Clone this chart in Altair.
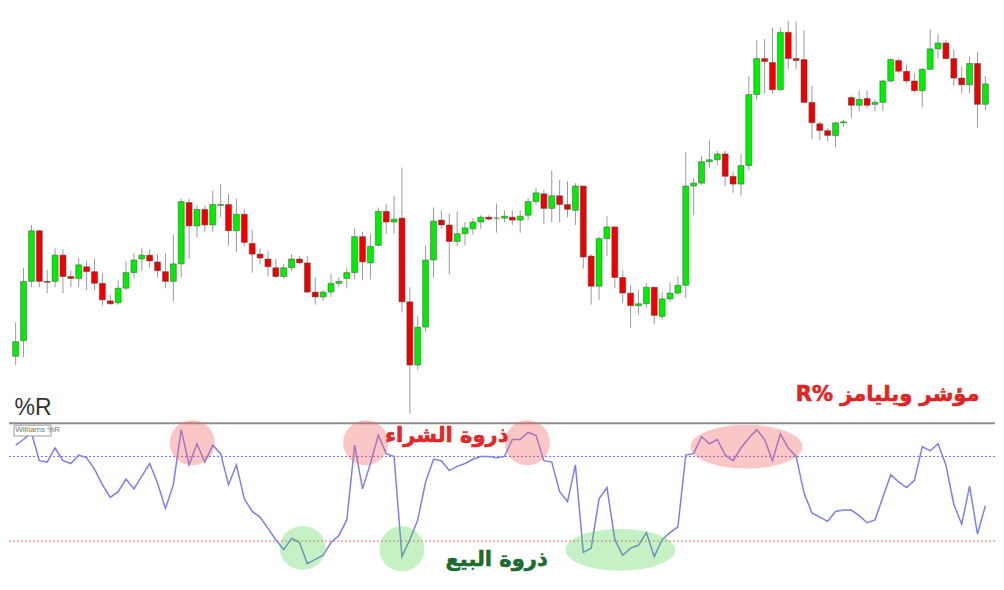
import math
import altair as alt
import pandas as pd

# ---------------- data ----------------
idx = list(range(1, 125))

open_ = [62, 78, 139, 191, 139, 139, 166, 144, 142, 154,
         149, 137, 119, 117, 132, 148, 162, 166, 159, 149,
         139, 157, 220, 196, 213, 197, 217, 218, 191, 208,
         178, 167, 162, 153, 144, 153, 162, 158, 128, 123,
         128, 137, 142, 148, 185, 158, 176, 211, 200, 204,
         118, 53, 92, 161, 202, 197, 180, 188, 193, 200,
         205, 204, 204, 205, 202, 207, 221, 229, 214, 227,
         218, 212, 237, 165, 134, 183, 195, 143, 127, 114,
         116, 133, 103, 121, 127, 135, 237, 240, 262, 264,
         270, 247, 239, 258, 331, 368, 364, 336, 395, 368,
         367, 323, 301, 294, 289, 302, 328, 320, 327, 321,
         323, 345, 366, 355, 345, 335, 357, 378, 384, 368,
         348, 341, 363, 321]

close = [77, 139, 191, 139, 138, 166, 144, 142, 156, 149,
         137, 120, 116, 132, 148, 161, 166, 160, 150, 139,
         157, 221, 196, 213, 197, 218, 218, 191, 208, 179,
         167, 163, 154, 144, 153, 162, 158, 128, 123, 128,
         137, 139, 148, 185, 159, 175, 211, 200, 203, 118,
         53, 92, 161, 201, 197, 180, 188, 194, 200, 205,
         203, 204, 206, 202, 206, 221, 230, 214, 227, 218,
         213, 237, 164, 134, 183, 195, 143, 127, 114, 116,
         133, 104, 121, 127, 135, 237, 240, 262, 264, 270,
         247, 239, 258, 331, 368, 365, 336, 395, 368, 366,
         323, 302, 294, 289, 302, 303, 320, 326, 320, 323,
         345, 367, 355, 345, 335, 357, 378, 384, 368, 348,
         341, 363, 321, 342]

high = [97, 153, 197, 192, 151, 173, 172, 150, 163, 160,
        162, 147, 125, 140, 160, 168, 173, 172, 167, 168,
        187, 224, 224, 217, 217, 232, 239, 229, 224, 213,
        192, 173, 170, 162, 157, 167, 165, 165, 143, 130,
        147, 143, 153, 194, 190, 188, 215, 219, 227, 256,
        133, 103, 176, 215, 212, 209, 211, 200, 204, 207,
        207, 219, 212, 212, 212, 225, 235, 233, 253, 243,
        242, 240, 237, 167, 185, 206, 195, 150, 135, 130,
        137, 133, 128, 138, 144, 272, 245, 268, 284, 273,
        273, 252, 270, 350, 387, 388, 400, 400, 407, 406,
        397, 340, 303, 297, 303, 305, 330, 335, 335, 326,
        346, 368, 368, 362, 353, 358, 398, 393, 387, 377,
        360, 370, 375, 350]

low = [53, 61, 133, 133, 127, 133, 127, 133, 133, 130,
       130, 114, 115, 115, 130, 142, 150, 153, 143, 132,
       118, 143, 162, 184, 190, 190, 205, 176, 169, 175,
       148, 157, 144, 142, 142, 150, 157, 127, 115, 119,
       123, 133, 132, 141, 140, 141, 175, 188, 188, 107,
       3, 48, 87, 143, 193, 146, 175, 176, 187, 193,
       202, 189, 200, 197, 189, 202, 218, 198, 200, 200,
       205, 197, 152, 115, 120, 165, 132, 117, 91, 105,
       112, 95, 100, 118, 125, 122, 207, 238, 255, 258,
       237, 230, 227, 253, 325, 332, 332, 335, 357, 357,
       322, 285, 284, 283, 277, 298, 307, 314, 317, 314,
       314, 343, 353, 343, 333, 318, 357, 368, 367, 340,
       332, 332, 297, 315]

williams_r = [-12, -8, -3, -23, -24, -14, -23, -25, -19, -21,
              -29, -40, -49, -45, -36, -43, -34, -25, -39, -57,
              -40, -1, -26, -11, -24, -12, -18, -40, -26, -50,
              -59, -63, -71, -79, -86, -78, -81, -96, -93, -90,
              -81, -76, -65, -12, -43, -25, -5, -18, -20, -91,
              -79, -65, -38, -22, -23, -30, -27, -25, -22, -20,
              -20, -21, -20, -8, -8, -3, -5, -23, -24, -45,
              -52, -26, -88, -85, -50, -42, -79, -90, -85, -83,
              -74, -91, -79, -74, -70, -19, -18, -6, -11, -8,
              -19, -23, -14, -7, -1, -8, -23, -4, -14, -20,
              -46, -60, -63, -66, -59, -58, -58, -62, -67, -65,
              -49, -33, -38, -42, -37, -13, -16, -11, -26, -54,
              -68, -41, -75, -55]

levels = [-20, -80]
level_colors = ["#6f6ff5", "#f07070"]

# highlight zones on the indicator (centre index, %R value, width px, aspect, colour)
zone_i = [23.4, 45.4, 65.9, 93.7, 37.4, 50.0, 77.7]
zone_v = [-10.3, -10.3, -10.3, -13.1, -84.8, -85.5, -86.2]
zone_w = [45, 45, 45, 112, 46, 45, 110]
zone_aspect = [1.0, 1.0, 1.0, 0.39, 0.95, 1.0, 0.38]
zone_fill = ["#f06060", "#f06060", "#f06060", "#f06060", "#40d040", "#40d040", "#40d040"]
zone_opacity = [0.36, 0.36, 0.36, 0.36, 0.3, 0.3, 0.3]

# ---------------- helpers ----------------
def ellipse_path(a, n=48):
    pts = []
    for k in range(n):
        t = 2 * math.pi * k / n
        pts.append(f"{math.cos(t):.4f},{a * math.sin(t):.4f}")
    return "M" + "L".join(pts) + "Z"

candles = pd.DataFrame({"i": idx, "open": open_, "high": high, "low": low, "close": close})
candles["dir"] = ["up" if c >= o else "down" for o, c in zip(open_, close)]
wr = pd.DataFrame({"i": idx, "wr": williams_r})
lv = pd.DataFrame({"lvl": levels, "c": level_colors})
zones = pd.DataFrame({
    "i": zone_i, "v": zone_v,
    "shape": [ellipse_path(a) for a in zone_aspect],
    "size": [w * w for w in zone_w],
    "fill": zone_fill,
    "op": zone_opacity,
})

X = alt.Scale(domain=[0.79, 124.59], nice=False, zero=False)
PY = alt.Scale(domain=[-170, 420], nice=False, zero=False)
RY = alt.Scale(domain=[-109, 297.9], nice=False, zero=False)

ARABIC = "DejaVu Sans"

# ---------------- price panel ----------------
wicks = alt.Chart(candles).mark_rule(color="#9a9a9a", strokeWidth=1).encode(
    x=alt.X("i:Q", scale=X, axis=None),
    y=alt.Y("low:Q", scale=PY, axis=None),
    y2="high:Q",
)
bodies = alt.Chart(candles).mark_bar(size=6, stroke="#4d4d4d", strokeWidth=0.5).encode(
    x=alt.X("i:Q", scale=X, axis=None),
    y=alt.Y("open:Q", scale=PY, axis=None),
    y2="close:Q",
    color=alt.Color("dir:N", scale=alt.Scale(domain=["up", "down"], range=["#00ee00", "#ee0000"]), legend=None),
)
title_txt = alt.Chart(pd.DataFrame({"i": [111.6], "p": [22], "t": ["R% مؤشر ويليامز"]})).mark_text(
    font=ARABIC, fontSize=21, fontWeight="bold", color="#e02424", stroke="#e02424", strokeWidth=0.6,
    align="center", baseline="middle"
).encode(x=alt.X("i:Q", scale=X, axis=None), y=alt.Y("p:Q", scale=PY, axis=None), text="t:N")
pr_txt = alt.Chart(pd.DataFrame({"i": [0.85], "p": [2], "t": ["%R"]})).mark_text(
    font="Liberation Sans", fontSize=23, color="#333333", align="left", baseline="alphabetic"
).encode(x=alt.X("i:Q", scale=X, axis=None), y=alt.Y("p:Q", scale=PY, axis=None), text="t:N")

top = alt.layer(wicks, bodies, title_txt, pr_txt)

# ---------------- Williams %R panel ----------------
sep = alt.Chart(pd.DataFrame({"v": [3.5]})).mark_rule(color="#8f8f8f", strokeWidth=2).encode(
    y=alt.Y("v:Q", scale=RY, axis=None)
)
lvl_rules = alt.Chart(lv).mark_rule(strokeWidth=1, strokeDash=[2, 2]).encode(
    y=alt.Y("lvl:Q", scale=RY, axis=None),
    color=alt.Color("c:N", scale=None),
)
line = alt.Chart(wr).mark_line(color="#7f7fec", strokeWidth=1.5).encode(
    x=alt.X("i:Q", scale=X, axis=None),
    y=alt.Y("wr:Q", scale=RY, axis=None),
)
zone_marks = alt.Chart(zones).mark_point(filled=True, strokeWidth=0).encode(
    x=alt.X("i:Q", scale=X, axis=None),
    y=alt.Y("v:Q", scale=RY, axis=None),
    shape=alt.Shape("shape:N", scale=None),
    size=alt.Size("size:Q", scale=None),
    fill=alt.Fill("fill:N", scale=None),
    opacity=alt.Opacity("op:Q", scale=None),
)
box = alt.Chart(pd.DataFrame({"x1": [0.79], "x2": [5.48], "y1": [2.2], "y2": [-5.5]})).mark_rect(
    fill="white", stroke="#9a9a9a", strokeWidth=1
).encode(
    x=alt.X("x1:Q", scale=X, axis=None), x2="x2:Q",
    y=alt.Y("y1:Q", scale=RY, axis=None), y2="y2:Q",
)
box_txt = alt.Chart(pd.DataFrame({"i": [0.95], "v": [-1.6], "t": ["Williams %R"]})).mark_text(
    font="Liberation Sans", fontSize=8, color="#777777", align="left", baseline="middle"
).encode(x=alt.X("i:Q", scale=X, axis=None), y=alt.Y("v:Q", scale=RY, axis=None), text="t:N")
buy_txt = alt.Chart(pd.DataFrame({"i": [55.7], "v": [-5.5], "t": ["ذروة الشراء"]})).mark_text(
    font=ARABIC, fontSize=21, fontWeight="bold", color="#e3262a", stroke="#e3262a", strokeWidth=0.6,
    align="center", baseline="middle"
).encode(x=alt.X("i:Q", scale=X, axis=None), y=alt.Y("v:Q", scale=RY, axis=None), text="t:N")
sell_txt = alt.Chart(pd.DataFrame({"i": [62.0], "v": [-93.1], "t": ["ذروة البيع"]})).mark_text(
    font=ARABIC, fontSize=21, fontWeight="bold", color="#1d6b2f", stroke="#1d6b2f", strokeWidth=0.6,
    align="center", baseline="middle"
).encode(x=alt.X("i:Q", scale=X, axis=None), y=alt.Y("v:Q", scale=RY, axis=None), text="t:N")

bottom = alt.layer(sep, lvl_rules, line, zone_marks, box, box_txt, buy_txt, sell_txt)

chart = (
    alt.layer(top, bottom)
    .resolve_scale(y="independent")
    .properties(
        width=988, height=574, padding=0,
        autosize=alt.AutoSizeParams(type="fit", contains="padding"),
        background="white",
    )
    .configure_view(stroke=None)
)

chart.save("out.html", embed_options={"renderer": "svg", "actions": False})
